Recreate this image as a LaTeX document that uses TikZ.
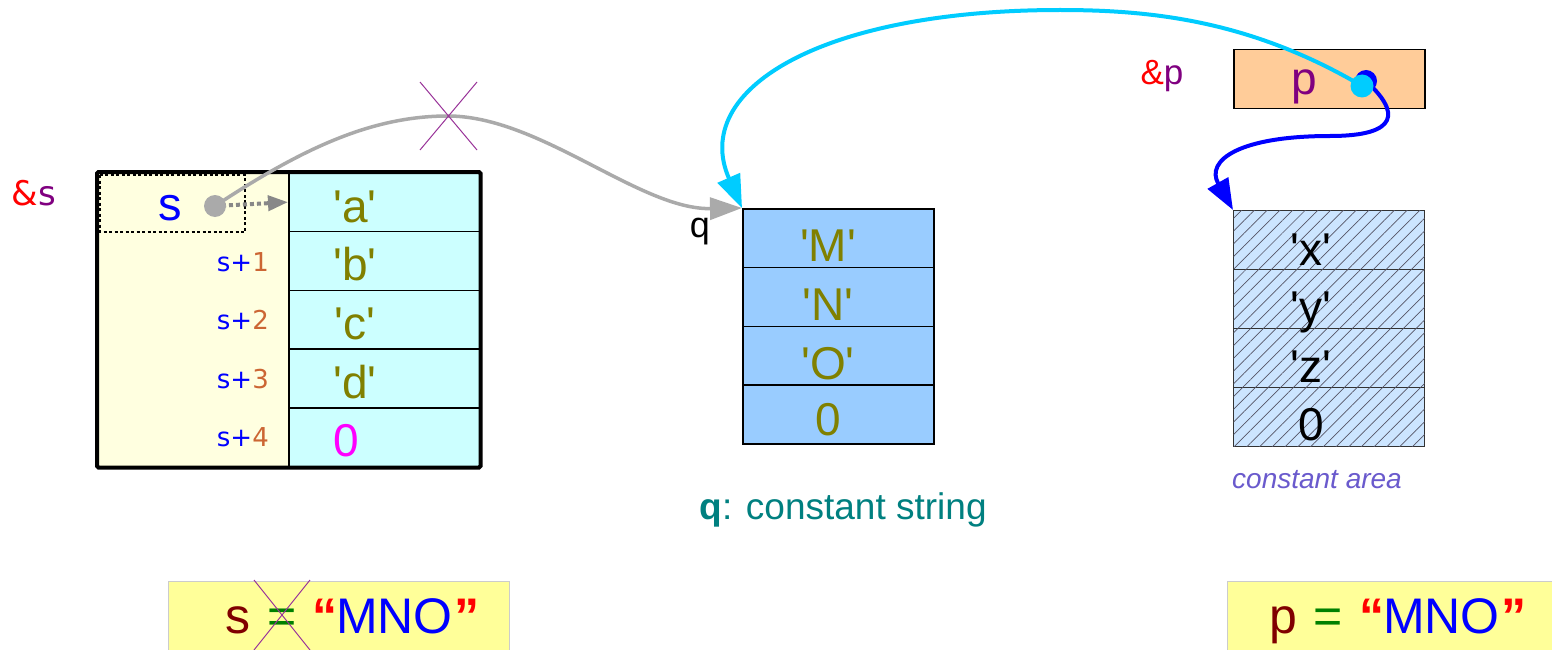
\documentclass[tikz,border=0pt]{standalone}
\usepackage{fontspec}
\newfontfamily\lib{Liberation Sans}
\newfontfamily\dejavu{DejaVu Sans}
\usetikzlibrary{arrows.meta,patterns.meta}
\newcommand{\fsz}[1]{\fontsize{#1pt}{#1pt}\selectfont}
\definecolor{olivec}{HTML}{808000}
\definecolor{cellcyan}{HTML}{CCFFFF}
\definecolor{cream}{HTML}{FFFFE0}
\definecolor{qblue}{HTML}{99CCFF}
\definecolor{peach}{HTML}{FFCC99}
\definecolor{hatchbg}{HTML}{CCE5FF}
\definecolor{hatchc}{HTML}{555566}
\definecolor{cyanl}{HTML}{00CCFF}
\definecolor{tealc}{HTML}{008080}
\definecolor{slatec}{HTML}{6A5ACD}
\definecolor{purp}{HTML}{800080}
\definecolor{xpurp}{HTML}{993399}
\definecolor{darkredc}{HTML}{800000}
\definecolor{greenc}{HTML}{008000}
\definecolor{orangec}{HTML}{CC6633}
\definecolor{yellowbox}{HTML}{FFFF99}
\definecolor{grayc}{HTML}{AAAAAA}
\definecolor{dotgray}{HTML}{888888}
\definecolor{magc}{HTML}{FF00FF}
\begin{document}
\begin{tikzpicture}[x=1pt,y=-1pt,
  cellA/.style={rectangle, draw=black, line width=1.5pt, fill=cellcyan, minimum width=191pt, minimum height=58.8pt, inner sep=0pt, anchor=north west},
  cellQ/.style={cellA, fill=qblue, minimum height=58.75pt},
  cellH/.style={cellA, fill=hatchbg, draw=black!80, line width=1.2pt, minimum height=59pt,
     postaction={pattern={Lines[angle=45,distance=9pt,line width=0.7pt]}, pattern color=hatchc}},
  bigtxt/.style={font=\lib\fsz{46}, inner sep=0pt, anchor=base},
  addr/.style={font=\dejavu\fsz{26}, inner sep=0pt, anchor=base east},
  dotnode/.style={circle, inner sep=0pt, minimum size=#1},
  ybox/.style={rectangle, fill=yellowbox, draw=gray!40, line width=1pt, anchor=north west, minimum width=341pt, minimum height=80pt, inner sep=0pt},
  crossline/.style={xpurp, line width=1pt}
]
\useasboundingbox (0,0) rectangle (1552,650);
\fill[white] (0,0) rectangle (1552,650);

% ---------- left array s ----------
\node[fill=cream, minimum width=191pt, minimum height=294pt, inner sep=0pt, anchor=north west] (lcol) at (97,172) {};
\foreach \i in {0,...,4} {
  \node[cellA] (a\i) at (288,{172+58.8*\i}) {};
}
\draw[line width=4pt, rounded corners=1.5pt] (lcol.north west) rectangle (a4.south east);
\draw[black, line width=1.5pt, dash pattern=on 3pt off 2.5pt] (100,175) rectangle (245,232);

\node[font=\dejavu\fsz{34}, inner sep=0pt, anchor=base] (amps) at (34,205) {\textcolor{red}{\&}\textcolor{purp}{s}};
\node[font=\lib\fsz{47}, text=blue, inner sep=0pt, anchor=base] (ts) at (170,220) {s};
\node[addr] (l1) at (269,271) {\textcolor{blue}{s+}\textcolor{orangec}{1}};
\node[addr] (l2) at (269,329) {\textcolor{blue}{s+}\textcolor{orangec}{2}};
\node[addr] (l3) at (269,388) {\textcolor{blue}{s+}\textcolor{orangec}{3}};
\node[addr] (l4) at (269,446) {\textcolor{blue}{s+}\textcolor{orangec}{4}};

\node[bigtxt, text=olivec] (ta0) at (355,222) {'a'};
\node[bigtxt, text=olivec] (ta1) at (355,280) {'b'};
\node[bigtxt, text=olivec] (ta2) at (355,339) {'c'};
\node[bigtxt, text=olivec] (ta3) at (355,398) {'d'};
\node[bigtxt, text=magc] (ta4) at (346,456) {0};

% ---------- q array ----------
\foreach \i in {0,...,3} {
  \node[cellQ] (q\i) at (742,{208+58.75*\i}) {};
}
\node[bigtxt, text=olivec] (tq0) at (828,261) {'M'};
\node[bigtxt, text=olivec] (tq1) at (828,320) {'N'};
\node[bigtxt, text=olivec] (tq2) at (828,379) {'O'};
\node[bigtxt, text=olivec] (tq3) at (828,435) {0};
\node[font=\lib\fsz{36}, inner sep=0pt, anchor=base] (qlab) at (700,237) {q};
\node[font=\lib\fsz{37}, text=tealc, inner sep=0pt, anchor=base] (qcap) at (843,519) {\textbf{q}: constant string};

% ---------- p box ----------
\node[rectangle, fill=peach, draw=black, line width=1.5pt, minimum width=191pt, minimum height=59pt, inner sep=0pt, anchor=north west] (pbox) at (1233,49) {};
\node[bigtxt, text=purp] (tp) at (1304,95) {p};
\node[font=\lib\fsz{35}, inner sep=0pt, anchor=base] (ampp) at (1162,85) {\textcolor{red}{\&}\textcolor{purp}{p}};

% ---------- constant area ----------
\foreach \i in {0,...,3} {
  \node[cellH] (h\i) at (1233,{210+59*\i}) {};
}
\node[bigtxt] (th0) at (1311,265) {'x'};
\node[bigtxt] (th1) at (1311,323) {'y'};
\node[bigtxt] (th2) at (1311,382) {'z'};
\node[bigtxt] (th3) at (1311,440) {0};
\node[font=\lib\itshape\fsz{28}, text=slatec, inner sep=0pt, anchor=base] (carea) at (1317,488) {constant area};

% ---------- connectors ----------
\coordinate (sdc) at (215,206);
\coordinate (cdc) at (1362,86);
\coordinate (bdc) at (1366,81);

\draw[dotgray, line width=4pt, dash pattern=on 4pt off 3pt, -{Triangle[length=20pt,width=15pt]}] (sdc) -- (a0.west);
\draw[grayc, line width=3.5pt, -{Triangle[length=32pt,width=22pt]}] (sdc) .. controls (300,150) and (370,116) .. (448,116) .. controls (540,116) and (640,210) .. (q0.north west);
\node[dotnode=22pt, fill=grayc] (sdot) at (sdc) {};

\draw[crossline] (420,82) -- (477,150) (477,82) -- (420,150);

\draw[blue, line width=4pt, -{Triangle[length=31pt,width=23pt]}] (bdc) .. controls (1400,112) and (1400,136) .. (1330,136) .. controls (1240,136) and (1205,160) .. (h0.north west);
\node[dotnode=22pt, fill=blue] (bdot) at (bdc) {};
\draw[cyanl, line width=4pt, -{Triangle[length=33pt,width=24pt]}] (cdc) .. controls (1250,20) and (1150,10) .. (1060,10) .. controls (820,10) and (690,90) .. (q0.north west);
\node[dotnode=23pt, fill=cyanl] (cdot) at (cdc) {};

% ---------- bottom boxes ----------
\node[ybox] (bl) at (168,581) {};
\node[ybox] (br) at (1227,581) {};
\node[font=\lib\fsz{50}, inner sep=0pt, anchor=base west] (eqs) at (225,633) {\textcolor{darkredc}{s} \kern3pt\textcolor{greenc}{=} \kern2pt\textcolor{red}{\bfseries“}\kern-1pt\textcolor{blue}{MNO}\kern2pt\textcolor{red}{\bfseries”}};
\node[font=\lib\fsz{50}, inner sep=0pt, anchor=base west] (eqp) at (1269,633) {\textcolor{darkredc}{p} \kern3pt\textcolor{greenc}{=} \kern2pt\textcolor{red}{\bfseries“}\kern-1pt\textcolor{blue}{MNO}\kern2pt\textcolor{red}{\bfseries”}};
\draw[crossline] (254,580) -- (310,650) (310,580) -- (254,650);
\end{tikzpicture}
\end{document}
